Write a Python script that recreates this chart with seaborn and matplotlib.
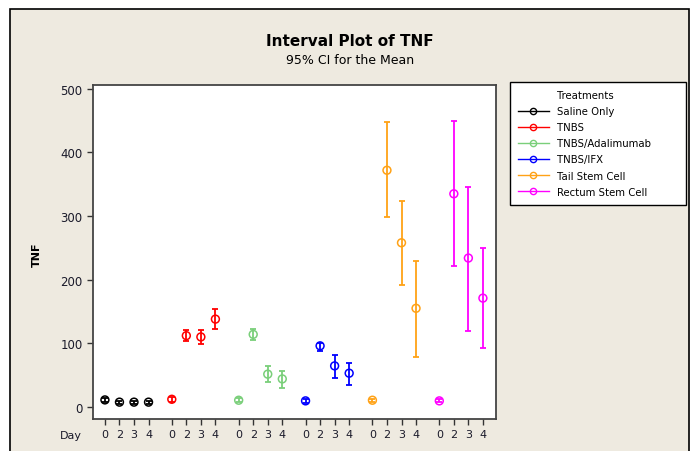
import numpy as np
import pandas as pd
import matplotlib
matplotlib.use('Agg')
import matplotlib.pyplot as plt
from matplotlib.patches import Rectangle
from matplotlib.lines import Line2D
import seaborn as sns

# Treatment groups and days
treatments = ['Saline Only', 'TNBS', 'TNBS/Adalimumab', 'TNBS/IFX',
              'Tail Stem Cell', 'Rectum Stem Cell']
days = ['0', '2', '3', '4']
colors = ['#000000', '#FF0000', '#7ACF7A', '#0000FF', '#FFA216', '#FF00FF']

# mean TNF per treatment, one value per day
saline_mean = [11, 7.5, 7.5, 7.5]
tnbs_mean = [12, 112, 110, 138]
adalimumab_mean = [10.5, 114, 51.5, 44]
ifx_mean = [9.5, 96, 64.5, 53]
tail_mean = [10.5, 372, 258, 155]
rectum_mean = [9.5, 335, 234, 171]

# lower / upper 95% CI
saline_lo = [8, 5, 5, 5]
saline_hi = [14, 10, 10, 10]
tnbs_lo = [8, 103, 99, 122]
tnbs_hi = [16, 121, 121, 154]
adalimumab_lo = [7.5, 105, 38.5, 30.5]
adalimumab_hi = [13.5, 122, 64.5, 57]
ifx_lo = [6.5, 88, 45, 34.5]
ifx_hi = [12.5, 100, 82, 69.5]
tail_lo = [8, 298.5, 191, 79]
tail_hi = [13, 448.5, 324, 229]
rectum_lo = [7, 222, 120, 92]
rectum_hi = [12, 449.5, 346, 250]

means = [saline_mean, tnbs_mean, adalimumab_mean, ifx_mean, tail_mean, rectum_mean]
lows = [saline_lo, tnbs_lo, adalimumab_lo, ifx_lo, tail_lo, rectum_lo]
highs = [saline_hi, tnbs_hi, adalimumab_hi, ifx_hi, tail_hi, rectum_hi]

group_step = 4.6  # spacing between treatment clusters, in day slots

rows = []
for g, t in enumerate(treatments):
    for d, day in enumerate(days):
        rows.append({'Treatment': t, 'Day': day, 'pos': g * group_step + d,
                     'TNF': means[g][d], 'lo': lows[g][d], 'hi': highs[g][d]})
df = pd.DataFrame(rows)
palette = dict(zip(treatments, colors))

fig = plt.figure(figsize=(6.97, 4.52), dpi=100, facecolor='white')
bg = '#EEEAE0'
fig.patches.append(Rectangle((10 / 697, -0.01), 679 / 697, 1.01 - 10 / 452,
                             transform=fig.transFigure, facecolor=bg,
                             edgecolor='black', linewidth=1.2, zorder=-10))

ax = fig.add_axes([93 / 697, 1 - 420 / 452, 403 / 697, 334 / 452])
ax.set_facecolor('white')

# confidence intervals
for t in treatments:
    sub = df[df['Treatment'] == t]
    ax.errorbar(sub['pos'], sub['TNF'],
                yerr=[sub['TNF'] - sub['lo'], sub['hi'] - sub['TNF']],
                fmt='none', ecolor=palette[t], elinewidth=1.3, capsize=2.2,
                capthick=1.3, zorder=2)

# means as open circles
sns.scatterplot(data=df, x='pos', y='TNF', hue='Treatment', palette=palette,
                marker='o', s=32, linewidth=1.1, legend=False, ax=ax, zorder=3)
for c in ax.collections:
    fc = c.get_facecolors()
    if len(fc):
        c.set_edgecolors(fc)
        c.set_facecolors('none')

ax.set_xlim(-0.82, 26.9)
ax.set_ylim(-19, 506)
ax.set_yticks([0, 100, 200, 300, 400, 500])
ax.set_xticks(df['pos'])
ax.set_xticklabels(df['Day'])
ax.tick_params(axis='both', direction='out', length=4, width=1, color='#333333',
               labelsize=8.5, labelcolor='#1a1a2a')
ax.tick_params(axis='x', pad=3, labelsize=8)
ax.set_xlabel('')
ax.set_ylabel('')
for s in ax.spines.values():
    s.set_color('#444444')
    s.set_linewidth(1.3)

fig.text(37 / 697, 1 - 255 / 452, 'TNF', rotation=90, fontsize=8,
         fontweight='bold', ha='center', va='center')
fig.text(71 / 697, 1 - 436 / 452, 'Day', fontsize=8, ha='center', va='center',
         color='#1a1a2a')

fig.text(350 / 697, 1 - 42 / 452, 'Interval Plot of TNF', fontsize=11,
         fontweight='bold', ha='center', va='center')
fig.text(350 / 697, 1 - 61 / 452, '95% CI for the Mean', fontsize=9,
         ha='center', va='center')

# legend: first row is a blank handle carrying the heading
handles = [Line2D([], [], linestyle='none')]
handles += [Line2D([0], [0], color=c, marker='o', markerfacecolor='none',
                   markersize=4.5, linewidth=1) for c in colors]
labels = ['Treatments'] + treatments
leg = fig.legend(handles, labels, loc='upper left', mode='expand',
                 bbox_to_anchor=(510 / 697, 1 - 201 / 452, 176 / 697, 118 / 452),
                 fontsize=7.3, frameon=True, fancybox=False, framealpha=1,
                 edgecolor='black', handlelength=3, labelspacing=0.6,
                 borderpad=0.8, handletextpad=0.8, borderaxespad=0)
leg.get_frame().set_linewidth(1)
leg.get_frame().set_facecolor('white')

fig.savefig('out.png', dpi=100, facecolor=fig.get_facecolor())
plt.close(fig)
